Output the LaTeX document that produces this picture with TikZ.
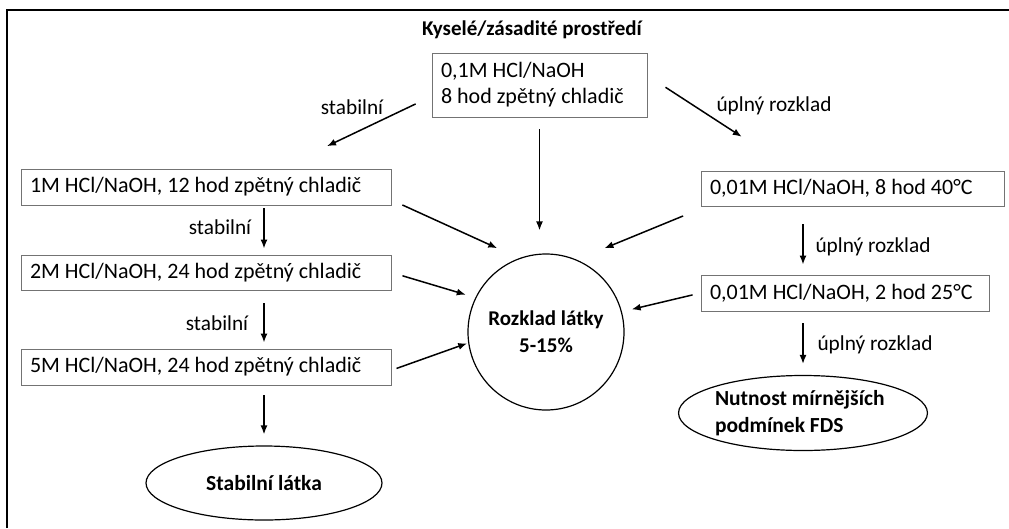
\documentclass[tikz,border=0pt]{standalone}
\usepackage{fontspec}
\setmainfont{Carlito}
\usetikzlibrary{arrows.meta,shapes.geometric}
\newcommand{\lefttext}[2]{\makebox[#1][l]{#2}}
\begin{document}
\begin{tikzpicture}[x=1pt,y=-1pt,
  every node/.style={font=\fontsize{21}{26}\selectfont},
  boxn/.style={draw=black!55, line width=0.9pt, rectangle, inner xsep=9pt, inner ysep=0pt, align=left,
               font=\fontsize{22}{26}\selectfont},
  lbl/.style={inner sep=0pt, font=\fontsize{21.3}{26}\selectfont},
  arr/.style={line width=1.5pt, -{Latex[length=9pt,width=7pt]}},
  ovaln/.style={draw=black, line width=1.2pt, ellipse, inner sep=0pt, font=\fontsize{21.5}{27}\selectfont\bfseries}]
\useasboundingbox (0,0) rectangle (1009,528);
\draw[line width=2.5pt] (7,528) -- (7,10) -- (1009,10);

\node[inner sep=0pt, font=\fontsize{21}{26}\selectfont\bfseries] (title) at (532,30) {Kyselé/zásadité prostředí};

\node[boxn, minimum height=64pt] (top) at (539.5,85) {\lefttext{197pt}{0,1M HCl/NaOH}\\\lefttext{197pt}{8 hod zpětný chladič}};

\node[boxn, minimum height=36pt] (b1) at (206,187) {\lefttext{352pt}{1M HCl/NaOH, 12 hod zpětný chladič}};
\node[boxn, minimum height=35pt] (b2) at (206,272.5) {\lefttext{352pt}{2M HCl/NaOH, 24 hod zpětný chladič}};
\node[boxn, minimum height=36pt] (b3) at (206,367) {\lefttext{352pt}{5M HCl/NaOH, 24 hod zpětný chladič}};

\node[boxn, minimum height=35pt] (r1) at (852.5,188.5) {\lefttext{285pt}{0,01M HCl/NaOH, 8 hod 40°C}};
\node[boxn, minimum height=36pt] (r2) at (845,293) {\lefttext{270pt}{0,01M HCl/NaOH, 2 hod 25°C}};

\node[draw=black, line width=1.2pt, circle, minimum size=156pt, inner sep=0pt, align=center,
      font=\fontsize{21}{27}\selectfont\bfseries] (circ) at (546,332) {Rozklad látky\\5-15\%};

\node[ovaln, minimum width=236pt, minimum height=74pt] (stab) at (264,483) {Stabilní látka};
\node[ovaln, minimum width=235pt, minimum height=75pt, align=left] (nut) at (803,413) {\lefttext{176pt}{Nutnost mírnějších}\\\lefttext{176pt}{podmínek FDS}};

% labels
\node[lbl] (l1) at (352,107) {stabilní};
\node[lbl] (l2) at (774,106) {úplný rozklad};
\node[lbl] (l3) at (220,227) {stabilní};
\node[lbl] (l4) at (217,323) {stabilní};
\node[lbl] (l5) at (873,247) {úplný rozklad};
\node[lbl] (l6) at (875,345) {úplný rozklad};

% arrows from top box
\draw[arr, shorten <=17.6pt, shorten >=52pt] (top.186) -- (b1.14.4);
\draw[arr, shorten <=21.5pt, shorten >=62pt] (top.5.7) -- (r1.163.1);
\draw[arr, shorten <=12pt, shorten >=23pt] (top.south) -- (top.south |- circ.north);

% left column
\draw[arr, shorten <=3pt, shorten >=6pt] (b1.south -| stab.north) -- (b2.north -| stab.north);
\draw[arr, shorten <=13pt, shorten >=6pt] (b2.south -| stab.north) -- (b3.north -| stab.north);
\draw[arr, shorten <=10pt, shorten >=11pt] (b3.south -| stab.north) -- (stab.north);

% right column
\draw[arr, shorten <=18pt, shorten >=10pt] (r1.south -| nut.north) -- (r2.north -| nut.north);
\draw[arr, shorten <=12pt, shorten >=11pt] (r2.south -| nut.north) -- (nut.north);

% into circle
\draw[arr, shorten <=12pt, shorten >=24pt] (b1.-4.3) -- (circ.110.3);
\draw[arr, shorten <=11.5pt, shorten >=10pt] (b2.east) -- (circ.154.3);
\draw[arr, shorten <=5.4pt, shorten >=1pt] (b3.-1.9) -- (circ.188.6);
\draw[arr, shorten <=25pt, shorten >=30pt] (r1.187.25) -- (circ.67.7);
\draw[arr, shorten <=8.2pt, shorten >=10pt] (r2.180.9) -- (circ.15.5);
\end{tikzpicture}
\end{document}
